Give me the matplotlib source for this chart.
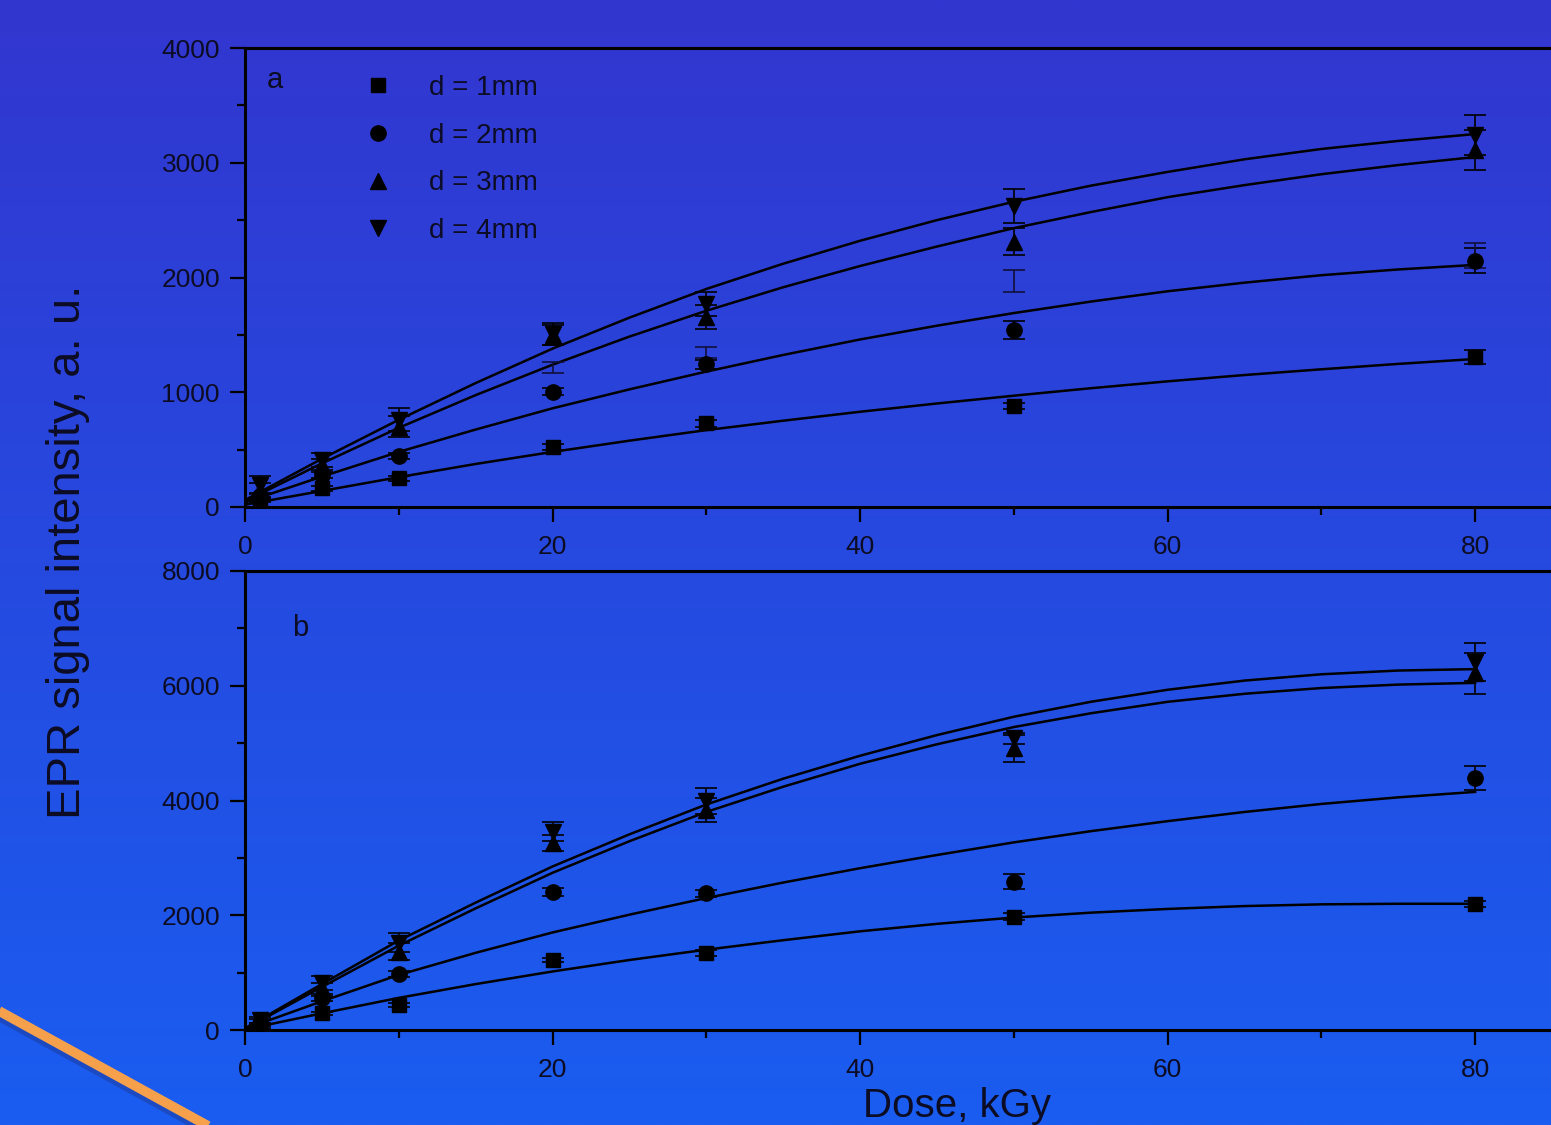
import numpy as np
import matplotlib
matplotlib.use("Agg")
import matplotlib.pyplot as plt
from matplotlib.lines import Line2D
from matplotlib.ticker import MultipleLocator

plt.rcParams['font.family'] = ['Liberation Sans', 'DejaVu Sans']

# ---------------- data ----------------
dose = [1, 5, 10, 20, 30, 50, 80]
labels = ["d = 1mm", "d = 2mm", "d = 3mm", "d = 4mm"]
markers = ["s", "o", "^", "v"]

# panel a
a_1mm = [55, 163, 250, 520, 729, 880, 1310]
a_1mm_err = [15, 20, 20, 25, 30, 30, 60]
a_2mm = [100, 279, 444, 1005, 1243, 1542, 2147]
a_2mm_err = [20, 30, 30, 30, 40, 77, 110]
a_3mm = [150, 370, 700, 1500, 1659, 2312, 3111]
a_3mm_err = [60, 50, 90, 90, 105, 120, 175]
a_4mm = [190, 410, 760, 1510, 1770, 2623, 3242]
a_4mm_err = [80, 60, 100, 95, 105, 150, 174]
# isolated error bars visible in panel a
a_extra_x = [20, 30, 50, 80]
a_extra_y = [1218, 1349, 1968, 2192]
a_extra_err = [48, 48, 97, 112]

# panel b
b_1mm = [52, 290, 436, 1220, 1337, 1975, 2196]
b_1mm_err = [15, 30, 40, 40, 50, 60, 60]
b_2mm = [105, 552, 970, 2411, 2382, 2585, 4386]
b_2mm_err = [20, 40, 50, 70, 60, 130, 210]
b_3mm = [139, 726, 1365, 3264, 3834, 4909, 6216]
b_3mm_err = [50, 100, 150, 140, 215, 230, 360]
b_4mm = [174, 813, 1522, 3456, 3991, 5083, 6419]
b_4mm_err = [60, 120, 170, 165, 230, 90, 330]

# fitted curves (every 5 kGy)
fit_dose = [0, 5, 10, 15, 20, 25, 30, 35, 40, 45, 50, 55, 60, 65, 70, 75, 80]
a_fit_1mm = [20, 140, 260, 375, 480, 578, 670, 752, 830, 902, 970, 1035, 1095, 1150, 1200, 1247, 1290]
a_fit_2mm = [40, 265, 480, 675, 860, 1025, 1180, 1325, 1460, 1580, 1690, 1790, 1880, 1955, 2020, 2070, 2110]
a_fit_3mm = [50, 380, 690, 975, 1240, 1485, 1710, 1915, 2100, 2270, 2430, 2570, 2700, 2805, 2900, 2980, 3050]
a_fit_4mm = [60, 420, 760, 1080, 1380, 1650, 1900, 2120, 2320, 2500, 2660, 2800, 2920, 3030, 3120, 3190, 3250]
b_fit_1mm = [10, 290, 560, 800, 1020, 1220, 1400, 1565, 1720, 1850, 1960, 2045, 2110, 2160, 2190, 2200, 2200]
b_fit_2mm = [20, 500, 960, 1345, 1700, 2010, 2300, 2570, 2820, 3050, 3270, 3465, 3640, 3800, 3940, 4055, 4150]
b_fit_3mm = [20, 750, 1470, 2120, 2740, 3290, 3800, 4240, 4640, 4980, 5280, 5520, 5720, 5860, 5960, 6020, 6050]
b_fit_4mm = [30, 800, 1560, 2220, 2850, 3410, 3930, 4380, 4780, 5140, 5460, 5720, 5930, 6090, 6200, 6265, 6290]

a_yticks = [0, 1000, 2000, 3000, 4000]
b_yticks = [0, 2000, 4000, 6000, 8000]
x_ticks = [0, 20, 40, 60, 80]

# ---------------- figure ----------------
W, H = 1551, 1125
fig = plt.figure(figsize=(W / 100, H / 100), dpi=100)

# gradient background
bg = fig.add_axes([0, 0, 1, 1], zorder=-10)
top = np.array([0x32, 0x36, 0xCF]) / 255
bot = np.array([0x1A, 0x5D, 0xF0]) / 255
t = np.linspace(0, 1, 256)[:, None]
grad = (top[None, :] * (1 - t) + bot[None, :] * t)[:, None, :]
bg.imshow(grad, aspect='auto', extent=[0, 1, 0, 1], interpolation='bilinear')
bg.set_axis_off()

# orange decorative line (bottom-left)
def px(x, y):
    return x / W, 1 - y / H
x0, y0 = px(-10, 1006)
x1, y1 = px(250, 1149)
fig.add_artist(Line2D([x0, x1], [y0 - 6 / H, y1 - 6 / H], transform=fig.transFigure,
                      color='#1C3CA0', lw=6, alpha=0.55, solid_capstyle='butt'))
fig.add_artist(Line2D([x0, x1], [y0, y1], transform=fig.transFigure,
                      color='#F6A04C', lw=7, solid_capstyle='butt'))

left = 245 / W
width = (1552 - 245) / W
ax_a = fig.add_axes([left, 1 - 507 / H, width, (507 - 48) / H])
ax_b = fig.add_axes([left, 1 - 1030 / H, width, (1030 - 571) / H])

TXT = '#0c0c24'

def style(ax, ymax, yticks, yminor):
    ax.set_facecolor('none')
    ax.set_xlim(0, 85)
    ax.set_ylim(0, ymax)
    ax.set_xticks(x_ticks)
    ax.set_yticks(yticks)
    ax.xaxis.set_minor_locator(MultipleLocator(10))
    ax.yaxis.set_minor_locator(MultipleLocator(yminor))
    ax.tick_params(which='major', direction='out', length=11, width=1.6,
                   labelsize=19, colors='black', labelcolor=TXT)
    ax.tick_params(axis='x', which='major', pad=9)
    ax.tick_params(axis='y', which='major', pad=7)
    ax.tick_params(which='minor', direction='out', length=6, width=1.6, colors='black')
    for s in ['left', 'bottom', 'top']:
        ax.spines[s].set_linewidth(2.2)
        ax.spines[s].set_color('black')
    ax.spines['right'].set_visible(False)

style(ax_a, 4000, a_yticks, 500)
style(ax_b, 8000, b_yticks, 1000)

ms = {"s": 10, "o": 11, "^": 12, "v": 12}

def draw(ax, series, errs, fits, extra=None):
    for f in fits:
        ax.plot(fit_dose, f, color='black', lw=1.8, zorder=2)
    for vals, e, m in zip(series, errs, markers):
        ax.errorbar(dose, vals, yerr=e, fmt=m, color='black', ms=ms[m],
                    capsize=8, elinewidth=1.2, capthick=1.2, zorder=3)
    if extra is not None:
        ex, ey, ee = extra
        ax.errorbar(ex, ey, yerr=ee, fmt='none', ecolor='#10103a',
                    capsize=8, elinewidth=1.2, capthick=1.2, zorder=3)

draw(ax_a, [a_1mm, a_2mm, a_3mm, a_4mm], [a_1mm_err, a_2mm_err, a_3mm_err, a_4mm_err],
     [a_fit_1mm, a_fit_2mm, a_fit_3mm, a_fit_4mm], (a_extra_x, a_extra_y, a_extra_err))
draw(ax_b, [b_1mm, b_2mm, b_3mm, b_4mm], [b_1mm_err, b_2mm_err, b_3mm_err, b_4mm_err],
     [b_fit_1mm, b_fit_2mm, b_fit_3mm, b_fit_4mm])

# legend
handles = [Line2D([], [], marker=m, color='black', ls='none', ms=ms[m]) for m in markers]
ax_a.legend(handles, labels, loc='upper left', bbox_to_anchor=((365 - 245) / 1307, 1 - 27 / 459),
            frameon=False, fontsize=20, handlelength=0.95, handletextpad=1.35,
            labelspacing=0.78, borderaxespad=0, borderpad=0, labelcolor=TXT)

# panel letters
ax_a.text((275 - 245) / 1307, 1 - (80 - 48) / 459, 'a', fontsize=21, color=TXT,
          ha='center', va='center', transform=ax_a.transAxes)
ax_b.text((300 - 245) / 1307, 1 - (628 - 571) / 459, 'b', fontsize=21, color=TXT,
          ha='center', va='center', transform=ax_b.transAxes)

# axis titles
fig.text(68 / W, 1 - 552 / H, 'EPR signal intensity, a. u.', rotation=90,
         fontsize=34, color=TXT, ha='center', va='center')
fig.text(957 / W, 1 - 1117 / H, 'Dose, kGy', fontsize=29, color=TXT,
         ha='center', va='baseline')

fig.savefig('out.png', dpi=100)
